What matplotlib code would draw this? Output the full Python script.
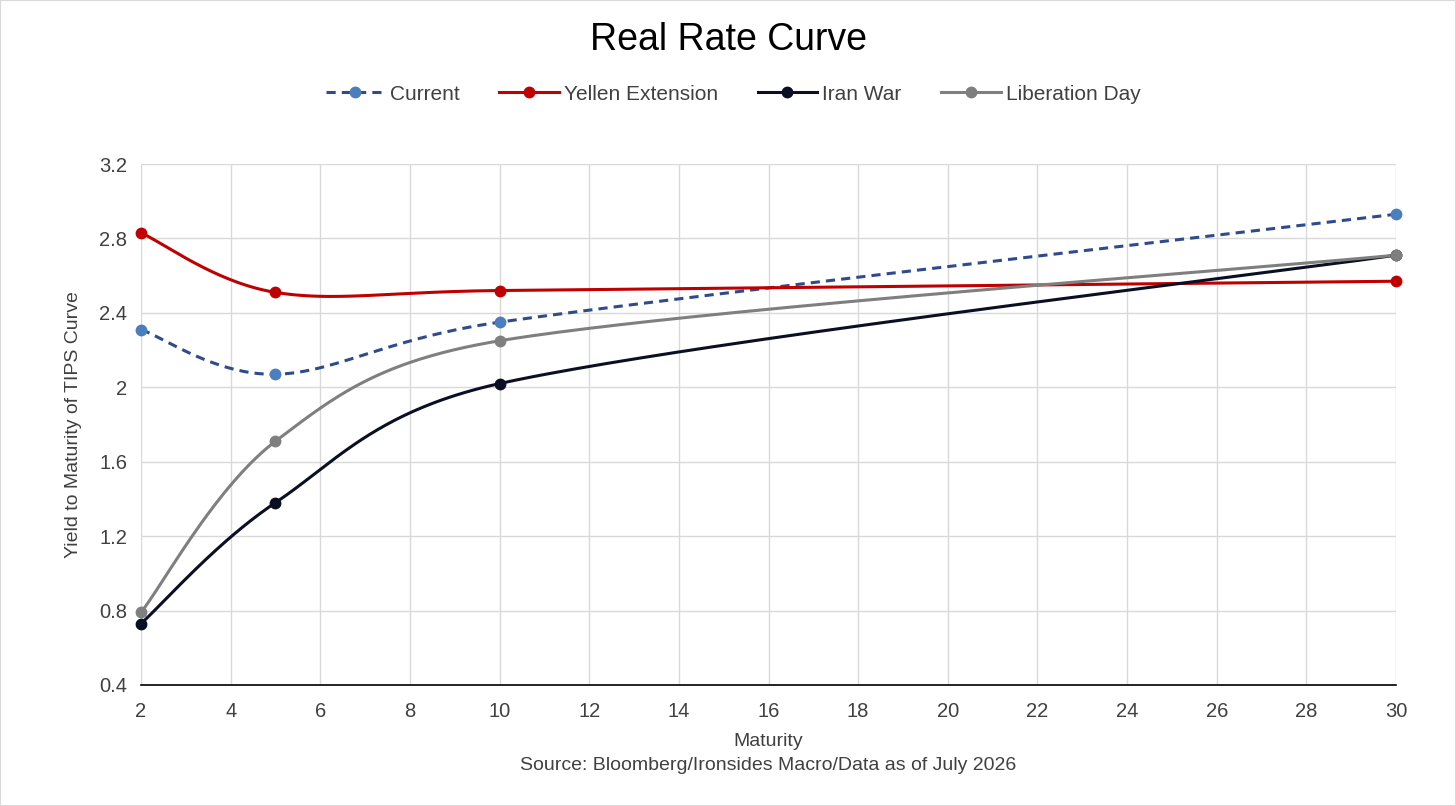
import matplotlib
matplotlib.use("Agg")
import matplotlib.pyplot as plt
import numpy as np

plt.rcParams['font.family'] = ['Liberation Sans', 'DejaVu Sans']

maturity = [2, 5, 10, 30]
current = [2.31, 2.07, 2.35, 2.93]
yellen = [2.83, 2.51, 2.52, 2.57]
iran = [0.73, 1.38, 2.02, 2.71]
liberation = [0.79, 1.71, 2.25, 2.71]

x_ticks = list(range(2, 31, 2))
y_ticks = [0.4, 0.8, 1.2, 1.6, 2.0, 2.4, 2.8, 3.2]
y_labels = ['0.4', '0.8', '1.2', '1.6', '2', '2.4', '2.8', '3.2']

# pixels per data unit of the plot area, used so the smoothing works on screen shape
SX = 1255 / 28
SY = 521 / 2.8


def smooth(xs, ys, n=80):
    # Excel-like smoothed line: Bezier segments, arms = (next - prev) / 6,
    # limited to half the segment length
    p = np.column_stack([np.asarray(xs, float) * SX, np.asarray(ys, float) * SY])
    ext = np.vstack([p[0], p, p[-1]])
    t = np.linspace(0, 1, n)[:, None]
    pts = []
    for i in range(1, len(ext) - 2):
        p0, p3 = ext[i], ext[i + 1]
        seg = np.linalg.norm(p3 - p0)
        a1 = (ext[i + 1] - ext[i - 1]) / 6
        a2 = (ext[i + 2] - ext[i]) / 6
        for a in (a1, a2):
            la = np.linalg.norm(a)
            if la > seg / 2:
                a *= (seg / 2) / la
        c1, c2 = p0 + a1, p3 - a2
        b = (1 - t) ** 3 * p0 + 3 * (1 - t) ** 2 * t * c1 + 3 * (1 - t) * t ** 2 * c2 + t ** 3 * p3
        pts.append(b)
    pts = np.vstack(pts)
    return pts[:, 0] / SX, pts[:, 1] / SY


fig = plt.figure(figsize=(14.56, 8.06), dpi=100)
ax = fig.add_axes([141 / 1456, 1 - 685 / 806, (1396 - 141) / 1456, (685 - 164) / 806])

series = [
    ('Current', current, '#2f4b8c', '#4a7ebf', '--'),
    ('Yellen Extension', yellen, '#c00000', '#c00000', '-'),
    ('Iran War', iran, '#0a0f24', '#0a0f24', '-'),
    ('Liberation Day', liberation, '#7f7f7f', '#7f7f7f', '-'),
]

handles = []
for name, vals, lc, mc, ls in series:
    sx, sy = smooth(maturity, vals)
    line, = ax.plot(sx, sy, color=lc, lw=2.2, zorder=3, clip_on=False)
    ax.plot(maturity, vals, 'o', color=mc, ms=7.5, mec=mc, zorder=4, clip_on=False)
    h, = ax.plot([], [], color=lc, lw=2.2, marker='o', ms=7.5, mfc=mc, mec=mc)
    if ls == '--':
        line.set_dashes((3, 2))
        h.set_dashes((3, 2))
    handles.append(h)

ax.set_xlim(2, 30)
ax.set_ylim(0.4, 3.2)
ax.set_xticks(x_ticks)
ax.set_yticks(y_ticks)
ax.set_yticklabels(y_labels)
ax.grid(True, color='#d9d9d9', lw=1)
ax.set_axisbelow(True)
for s in ['top', 'right', 'left']:
    ax.spines[s].set_visible(False)
ax.spines['bottom'].set_color('#000000')
ax.spines['bottom'].set_linewidth(1.2)
ax.tick_params(length=0, labelsize=14.5, colors='#404040')
ax.tick_params(axis='x', pad=12)
ax.tick_params(axis='y', pad=10)

ax.set_ylabel('Yield to Maturity of TIPS Curve', fontsize=14, color='#404040', labelpad=12)

fig.text(0.5, 1 - 40 / 806, 'Real Rate Curve', ha='center', va='center', fontsize=27, color='black')
fig.text(768 / 1456, 1 - 742 / 806, 'Maturity', ha='center', va='center', fontsize=14, color='#404040')
fig.text(768 / 1456, 1 - 766 / 806, 'Source: Bloomberg/Ironsides Macro/Data as of July 2026',
         ha='center', va='center', fontsize=14, color='#404040')

fig.legend(handles, [s[0] for s in series], loc='center', bbox_to_anchor=(733 / 1456, 1 - 94 / 806),
           ncol=4, frameon=False, fontsize=15, labelcolor='#404040', handlelength=2.85,
           columnspacing=1.9, handletextpad=0.25)

fig.patches.append(plt.Rectangle((0, 0), 1, 1, transform=fig.transFigure, fill=False,
                                 edgecolor='#d9d9d9', lw=1.5))

fig.savefig('out.png', dpi=100)
